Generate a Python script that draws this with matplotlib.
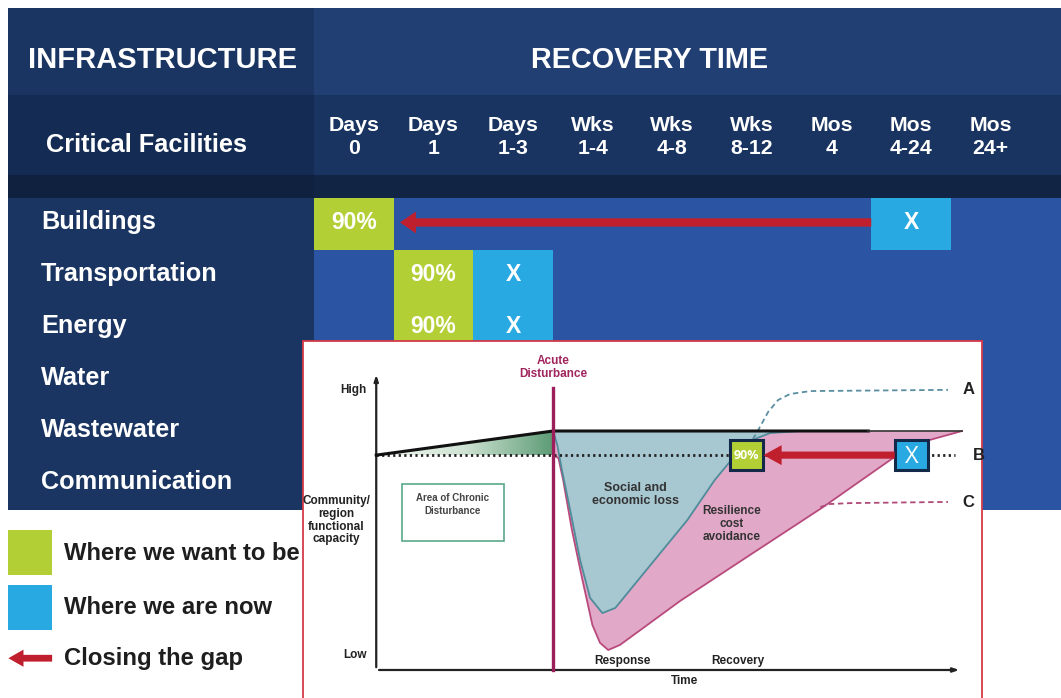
import numpy as np
import matplotlib.pyplot as plt
from matplotlib.patches import Rectangle, FancyArrow, Polygon
from matplotlib.colors import LinearSegmentedColormap

# recovery-time table
facilities = ["Buildings", "Transportation", "Energy", "Water", "Wastewater", "Communication"]
time_units = ["Days", "Days", "Days", "Wks", "Wks", "Wks", "Mos", "Mos", "Mos"]
time_values = ["0", "1", "1-3", "1-4", "4-8", "8-12", "4", "4-24", "24+"]
target_col = [0, 1, 1, None, None, None]    # where we want to be (90%)
current_col = [7, 2, 2, None, None, None]   # where we are now (X)
gap_rows = [0]                              # rows with a "closing the gap" arrow

# resilience curve (time 0-100, capacity 0-100)
baseline_cap = 72.1
predist_cap = 80.2
disturb_t = 30.2
loss_t = [30.2, 30.9, 31.7, 33.1, 34.8, 36.5, 38.6, 40.8, 46.8, 53.1, 57.8, 61.3, 64.2, 67.2, 72.4]
loss_cap = [80.2, 75.5, 67.1, 53.7, 36.9, 24.2, 19.1, 20.8, 35.2, 50.3, 63.8, 72.1, 77.2, 79.5, 80.2]
avoid_t = [30.2, 31.1, 31.9, 33.4, 35.2, 36.9, 38.2, 39.6, 41.6, 51.9, 63.8, 76.3, 82.6, 88.2, 94.5, 100]
avoid_cap = [72.1, 71.1, 63.8, 47.0, 30.2, 15.1, 9.1, 6.7, 8.4, 23.2, 38.6, 54.7, 63.4, 71.1, 77.2, 80.2]
path_a_t = [63.5, 65.2, 66.9, 68.6, 70.6, 74.1, 97.6]
path_a_cap = [74.8, 80.5, 86.6, 90.6, 92.6, 93.6, 94.0]
path_c_t = [75.8, 77.5, 80.9, 97.6]
path_c_cap = [54.7, 55.7, 56.0, 56.4]
target_t = 63.2
current_t = 91.4

green = "#b3cf36"
cyan = "#29a9e1"
red = "#c01f2d"
bold = dict(family=["Liberation Sans", "DejaVu Sans"], fontweight="bold")
cond = ["Liberation Sans Narrow", "Liberation Sans", "DejaVu Sans"]

fig = plt.figure(figsize=(10.61, 6.98), dpi=100)
ax = fig.add_axes([0, 0, 1, 1])
ax.set_xlim(-3.945, 9.384)
ax.set_ylim(9.615, -3.808)
ax.axis("off")

# background panels
ax.add_patch(Rectangle((-3.84, -3.65), 3.84, 9.65, fc="#1a3562", lw=0))
ax.add_patch(Rectangle((-3.84, -1.98), 3.84, 1.54, fc="#142c54", lw=0))
ax.add_patch(Rectangle((-3.84, -0.44), 3.84, 0.44, fc="#0f213f", lw=0))
ax.add_patch(Rectangle((0, -3.65), 9.5, 1.67, fc="#223f73", lw=0))
ax.add_patch(Rectangle((0, -1.98), 9.5, 1.54, fc="#1a3461", lw=0))
ax.add_patch(Rectangle((0, -0.44), 9.5, 0.44, fc="#112444", lw=0))
ax.add_patch(Rectangle((0, 0), 9.5, 6, fc="#2b54a3", lw=0))

ax.text(-1.9, -2.65, "INFRASTRUCTURE", color="white", fontsize=21, ha="center", va="center", **bold)
ax.text(4.22, -2.65, "RECOVERY TIME", color="white", fontsize=20.8, ha="center", va="center", **bold)
ax.text(-3.37, -1.02, "Critical Facilities", color="white", fontsize=18.3, va="center", **bold)
for i, (u, v) in enumerate(zip(time_units, time_values)):
    ax.text(i + 0.5, -1.18, u + "\n" + v, color="white", fontsize=15.3, ha="center", va="center",
            linespacing=1.25, **bold)

for r, name in enumerate(facilities):
    ax.text(-3.43, r + 0.47, name, color="white", fontsize=18.2, va="center", **bold)
    tc, cc = target_col[r], current_col[r]
    if tc is not None:
        ax.add_patch(Rectangle((tc, r), 1, 1, fc=green, lw=0))
        ax.text(tc + 0.5, r + 0.47, "90%", color="white", fontsize=16.5, ha="center", va="center", **bold)
    if cc is not None:
        ax.add_patch(Rectangle((cc, r), 1, 1, fc=cyan, lw=0))
        ax.text(cc + 0.5, r + 0.47, "X", color="white", fontsize=16.5, ha="center", va="center", **bold)
    if r in gap_rows:
        ax.add_patch(FancyArrow(cc, r + 0.47, -(cc - tc - 1.08), 0, width=0.16, head_width=0.42,
                                head_length=0.2, length_includes_head=True, fc=red, ec="none"))

# legend
ax.add_patch(Rectangle((-3.84, 6.38), 0.55, 0.87, fc=green, lw=0))
ax.add_patch(Rectangle((-3.84, 7.44), 0.55, 0.87, fc=cyan, lw=0))
ax.add_patch(FancyArrow(-3.29, 8.85, -0.55, 0, width=0.13, head_width=0.33, head_length=0.19,
                        length_includes_head=True, fc=red, ec="none"))
for y, lab in zip([6.83, 7.87, 8.85], ["Where we want to be", "Where we are now", "Closing the gap"]):
    ax.text(-3.14, y, lab, color="#1e1e1e", fontsize=17.2, va="center", **bold)

# resilience inset
ins = fig.add_axes([303 / 1061, 0, (982 - 303) / 1061, (698 - 341) / 698])
ins.set_xlim(-12.5, 103.4)
ins.set_ylim(-9.4, 110.4)
ins.set_xticks([])
ins.set_yticks([])
for s in ["left", "top", "right"]:
    ins.spines[s].set_color("#d43a48")
    ins.spines[s].set_linewidth(1.3)
ins.spines["bottom"].set_visible(False)

# chronic disturbance wedge with gradient
wedge = Polygon([[0, baseline_cap], [disturb_t, predist_cap], [disturb_t, baseline_cap]],
                closed=True, fc="none", ec="none")
ins.add_patch(wedge)
gcmap = LinearSegmentedColormap.from_list("g", ["#f1f7f1", "#cfe3d3", "#5e9c76"])
grad = ins.imshow(np.linspace(0, 1, 200).reshape(1, -1), cmap=gcmap, aspect="auto",
                  extent=[0, disturb_t, baseline_cap, predist_cap], zorder=1)
grad.set_clip_path(wedge)

ins.fill(np.r_[avoid_t, disturb_t], np.r_[avoid_cap, predist_cap], fc="#e2a8c8", ec="none", zorder=2)
ins.plot(avoid_t, avoid_cap, color="#b84a7c", lw=1.3, zorder=3)
ins.fill(loss_t, loss_cap, fc="#a7c7d1", ec="none", zorder=3)
ins.plot(loss_t, loss_cap, color="#4f8c9a", lw=1.3, zorder=4)

ins.plot(path_a_t, path_a_cap, color="#5a8ea0", lw=1.3, ls=(0, (3, 2)), zorder=4)
ins.plot(path_c_t, path_c_cap, color="#b04a78", lw=1.3, ls=(0, (3, 2)), zorder=4)
ins.plot([0, 98.8], [baseline_cap, baseline_cap], color="#222", lw=2, ls=(0, (0.8, 1.2)), zorder=5)
ins.plot([0, disturb_t, 84], [baseline_cap, predist_cap, predist_cap], color="#111", lw=2.2, zorder=5)
ins.plot([84, 100], [predist_cap, predist_cap], color="#333", lw=1.2, zorder=5)
ins.plot([disturb_t, disturb_t], [0, 94.6], color="#9c1f5c", lw=2.4, zorder=6)

ins.annotate("", xy=(0, 100), xytext=(0, 0),
             arrowprops=dict(arrowstyle="-|>,head_length=0.35,head_width=0.12", color="#222", lw=1.6))
ins.annotate("", xy=(100, 0), xytext=(0, 0),
             arrowprops=dict(arrowstyle="-|>,head_length=0.35,head_width=0.12", color="#222", lw=1.6))

ins.add_patch(Rectangle((4.4, 43.3), 17.4, 19.1, fc="none", ec="#5aa88a", lw=1.2))
ins.text(13.1, 55.5, "Area of Chronic\nDisturbance", color="#444", fontsize=7, ha="center", va="center",
         family=cond, fontweight="bold", linespacing=1.4)

ins.text(-1.7, 94, "High", fontsize=8.5, ha="right", va="center", family=cond, fontweight="bold", color="#222")
ins.text(-1.7, 5, "Low", fontsize=8.5, ha="right", va="center", family=cond, fontweight="bold", color="#222")
ins.text(-6.8, 50.3, "Community/\nregion\nfunctional\ncapacity", fontsize=8.5, ha="center", va="center",
         family=cond, fontweight="bold", color="#222", linespacing=1.1)
ins.text(disturb_t, 101.5, "Acute\nDisturbance", fontsize=8.5, ha="center", va="center", family=cond,
         fontweight="bold", color="#a0245e", linespacing=1.05)
ins.text(44.2, 59, "Social and\neconomic loss", fontsize=9, ha="center", va="center", family=cond,
         fontweight="bold", color="#333", zorder=7, linespacing=1.1)
ins.text(60.6, 49, "Resilience\ncost\navoidance", fontsize=8.5, ha="center", va="center", family=cond,
         fontweight="bold", color="#333", zorder=7, linespacing=1.1)
ins.text(42, 3, "Response", fontsize=8.5, ha="center", va="center", family=cond, fontweight="bold", color="#222")
ins.text(61.8, 3, "Recovery", fontsize=8.5, ha="center", va="center", family=cond, fontweight="bold", color="#222")
ins.text(52.6, -3.7, "Time", fontsize=8.5, ha="center", va="center", family=cond, fontweight="bold", color="#222")
for lab, t, c in [("A", 100, 94), ("B", 101.8, baseline_cap), ("C", 100, 56.2)]:
    ins.text(t, c, lab, fontsize=12, ha="left", va="center", family=cond, fontweight="bold", color="#222")

# gap overlay on the curve
ins.add_patch(Rectangle((target_t - 2.8, baseline_cap - 5), 5.6, 10, fc=green, ec="#14284a", lw=2.2, zorder=8))
ins.text(target_t, baseline_cap, "90%", color="white", fontsize=9, ha="center", va="center",
         family=["Open Sans", "DejaVu Sans"], fontweight="bold", zorder=9)
ins.add_patch(Rectangle((current_t - 2.8, baseline_cap - 5), 5.6, 10, fc=cyan, ec="#14284a", lw=2.2, zorder=8))
ins.text(current_t, baseline_cap - 0.5, "X", color="white", fontsize=17, ha="center", va="center",
         family=["Open Sans", "DejaVu Sans"], zorder=9)
ins.add_patch(FancyArrow(current_t - 2.9, baseline_cap, -(current_t - target_t - 5.8), 0, width=2.4,
                         head_width=6.7, head_length=3.1, length_includes_head=True, fc=red, ec="none", zorder=8))

fig.savefig("out.png", dpi=100)
